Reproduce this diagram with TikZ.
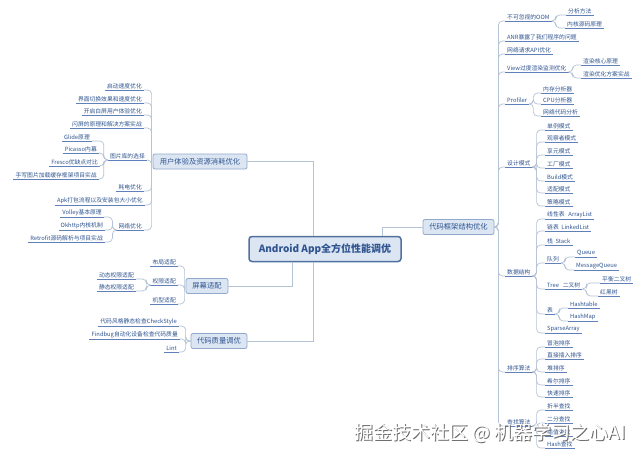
\documentclass[tikz,border=0pt]{standalone}
\usepackage{fontspec}
\setmainfont{Noto Sans CJK SC}
\usetikzlibrary{positioning}
\definecolor{azulTexto}{HTML}{2F5490}
\definecolor{azulLinea}{HTML}{5F80B8}
\definecolor{grisRama}{HTML}{B5C3D6}
\definecolor{fondoTema}{HTML}{DCE6F3}
\definecolor{bordeTema}{HTML}{91A9CB}
\definecolor{bordeRaiz}{HTML}{52709E}
\definecolor{grisMarca}{HTML}{6A6A6A}

\begin{document}
\begin{tikzpicture}[x=1pt, y=-1pt,
        root/.style={draw=bordeRaiz, fill=fondoTema, line width=1.5pt, rounded corners=3pt,
            minimum width=152pt, minimum height=25pt, font=\fontsize{10}{12}\selectfont\bfseries, text=azulTexto},
        topic/.style={draw=bordeTema, fill=fondoTema, line width=0.8pt, rounded corners=2pt,
            minimum height=15pt, inner xsep=3pt, font=\fontsize{7.3}{8}\selectfont, text=azulTexto},
        leaf/.style={inner xsep=2pt, inner ysep=1.3pt, font=\fontsize{5.8}{6}\selectfont, text=azulTexto,
            append after command={(\tikzlastnode.south west) edge[uline] (\tikzlastnode.south east)}},
        leafL/.style={leaf, anchor=south east},
        leafR/.style={leaf, anchor=south west},
        uline/.style={draw=azulLinea, line width=0.9pt},
        rel/.style={draw=grisRama, line width=0.7pt, rounded corners=4pt},
        trunk/.style={draw=grisRama, line width=0.8pt},
        wmark/.style={font=\fontsize{19}{21}\selectfont}
    ]
        \useasboundingbox (0,0) rectangle (640,456);
        \fill[white] (0,0) rectangle (640,456);

        % centro y ramas principales
        \node[root] (root) at (325,249) {Android App全方位性能调优};
        \node[topic, minimum width=94pt] (ux) at (200,161.5) {用户体验及资源消耗优化};
        \node[topic, minimum width=71pt] (arch) at (458.5,227) {代码框架结构优化};
        \node[topic, minimum width=42pt] (scr) at (207,286) {屏幕适配};
        \node[topic, minimum width=56pt] (qual) at (219,341) {代码质量调优};

        \draw[trunk] ([xshift=65pt]root.north west) |- (ux.east);
        \draw[trunk] ([xshift=-19pt]root.north east) |- (arch.west);
        \draw[trunk] ([xshift=44pt]root.south west) |- (scr.east);
        \draw[trunk] ([xshift=65pt]root.south west) |- (qual.east);

        % usuario
        \node[leafL] (ux1) at (144,90) {启动速度优化};
        \node[leafL] (ux2) at (144,103) {界面切换效果和速度优化};
        \node[leafL] (ux3) at (144,115) {开启白屏用户体验优化};
        \node[leafL] (ux4) at (144,128) {闪屏的原理和解决方案实战};
        \node[leafL] (img) at (147,160) {图片库的选择};
        \node[leafL] (img1) at (92,141) {Glide原理};
        \node[leafL] (img2) at (99,153) {Picasso内幕};
        \node[leafL] (img3) at (100,166) {Fresco优缺点对比};
        \node[leafL] (img4) at (99,179) {手写图片加载缓存框架项目实战};
        \node[leafL] (ux5) at (144,191) {耗电优化};
        \node[leafL] (ux6) at (145,205) {Apk打包流程以及安装包大小优化};
        \node[leafL] (net) at (144,230) {网络优化};
        \node[leafL] (net1) at (104,217) {Volley基本原理};
        \node[leafL] (net2) at (105,230) {Okhttp内核机制};
        \node[leafL] (net3) at (105,242) {Retrofit源码解析与项目实战};

        \foreach \n in {ux1,ux2,ux3,ux4,img,ux5,ux6,net}
            \draw[rel] ([xshift=-1pt]ux.west) |- (\n.south east);
        \foreach \n in {img1,img2,img3,img4}
            \draw[rel] (img.south west) -- ++(-4,0) |- (\n.south east);
        \foreach \n in {net1,net2,net3}
            \draw[rel] (net.south west) -- ++(-4,0) |- (\n.south east);

        % pantalla
        \node[leafL] (scr1) at (178,266) {布局适配};
        \node[leafL] (perm) at (178,285) {权限适配};
        \node[leafL] (scr3) at (178,304) {机型适配};
        \node[leafL] (perm1) at (136,279) {动态权限适配};
        \node[leafL] (perm2) at (136,291) {静态权限适配};
        \foreach \n in {scr1,perm,scr3}
            \draw[rel] ([xshift=-1pt]scr.west) |- (\n.south east);
        \foreach \n in {perm1,perm2}
            \draw[rel] (perm.south west) -- ++(-4,0) |- (\n.south east);

        % calidad
        \node[leafL] (qa1) at (179,326) {代码风格静态检查CheckStyle};
        \node[leafL] (qa2) at (180,339) {Findbug自动化设备检查代码质量};
        \node[leafL] (qa3) at (179,352) {Lint};
        \foreach \n in {qa1,qa2,qa3}
            \draw[rel] (qual.west) -- ++(-5,0) |- (\n.south east);

        % arquitectura
        \node[leafR] (oom) at (505,21) {不可忽视的OOM};
        \node[leafR] (oom1) at (566,15) {分析方法};
        \node[leafR] (oom2) at (565,28) {内核源码原理};
        \node[leafR] (anr) at (505,41) {ANR暴露了我们程序的问题};
        \node[leafR] (api) at (505,54) {网络请求API优化};
        \node[leafR] (view) at (505,72) {View过度渲染监测优化};
        \node[leafR] (view1) at (581,65) {渲染核心原理};
        \node[leafR] (view2) at (581,78) {渲染优化方案实战};
        \node[leafR] (prof) at (505,104) {Profiler};
        \node[leafR] (prof1) at (541,93) {内存分析器};
        \node[leafR] (prof2) at (541,104) {CPU分析器};
        \node[leafR] (prof3) at (541,116) {网络代码分析};
        \node[leafR] (dp) at (505,167) {设计模式};
        \node[leafR] (dp1) at (545,130) {单例模式};
        \node[leafR] (dp2) at (545,142) {观察者模式};
        \node[leafR] (dp3) at (545,155) {享元模式};
        \node[leafR] (dp4) at (545,168) {工厂模式};
        \node[leafR] (dp5) at (545,181) {Build模式};
        \node[leafR] (dp6) at (545,193) {适配模式};
        \node[leafR] (dp7) at (545,206) {策略模式};
        \node[leafR] (ds) at (505,276) {数据结构};
        \node[leafR] (ds1) at (545,219) {线性表~~~ArrayList};
        \node[leafR] (ds2) at (545,231) {链表~~LinkedList};
        \node[leafR] (ds3) at (545,245) {栈~~Stack};
        \node[leafR] (que) at (545,263) {队列};
        \node[leafR] (que1) at (575,257) {Queue};
        \node[leafR] (que2) at (574,270) {MessageQueue};
        \node[leafR] (tree) at (545,289) {Tree~~~二叉树};
        \node[leafR] (tree1) at (600,283) {平衡二叉树};
        \node[leafR] (tree2) at (598,296) {红黑树};
        \node[leafR] (tab) at (545,314) {表};
        \node[leafR] (tab1) at (568,308) {Hashtable};
        \node[leafR] (tab2) at (568,321) {HashMap};
        \node[leafR] (ds4) at (545,333) {SparseArray};
        \node[leafR] (sort) at (505,372) {排序算法};
        \node[leafR] (sort1) at (545,347) {冒泡排序};
        \node[leafR] (sort2) at (545,359) {直接插入排序};
        \node[leafR] (sort3) at (545,372) {堆排序};
        \node[leafR] (sort4) at (545,385) {希尔排序};
        \node[leafR] (sort5) at (545,397) {快速排序};
        \node[leafR] (find) at (505,426) {查找算法};
        \node[leafR] (find1) at (545,410) {折半查找};
        \node[leafR] (find2) at (545,423) {二分查找};
        \node[leafR] (find3) at (545,436) {插值查找};
        \node[leafR] (find4) at (545,448) {Hash查找};

        \foreach \n in {oom,anr,api,view,prof,dp,ds,sort,find}
            \draw[rel] (arch.east) -- ++(4,0) |- (\n.south west);
        \foreach \p/\c in {oom/oom1,oom/oom2,view/view1,view/view2,prof/prof1,prof/prof2,prof/prof3,
                dp/dp1,dp/dp2,dp/dp3,dp/dp4,dp/dp5,dp/dp6,dp/dp7,ds/ds1,ds/ds2,ds/ds3,ds/que,ds/tree,ds/tab,ds/ds4,
                que/que1,que/que2,tree/tree1,tree/tree2,tab/tab1,tab/tab2,
                sort/sort1,sort/sort2,sort/sort3,sort/sort4,sort/sort5,find/find1,find/find2,find/find3,find/find4}
            \draw[rel] (\p.south east) -- ++(4,0) |- (\c.south west);

        % marca de agua
        \node[wmark, text=grisMarca] (wmsombra) at (490.8,433.8) {掘金技术社区 @ 机器学习之心AI};
        \node[wmark, text=white] (wm) at (490,433) {掘金技术社区 @ 机器学习之心AI};
    \end{tikzpicture}
\end{document}
